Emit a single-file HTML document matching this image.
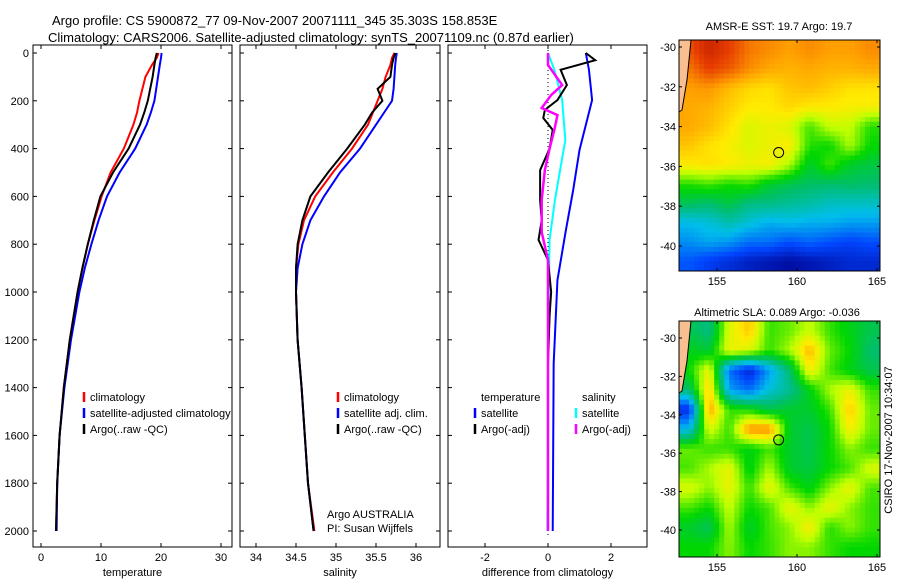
<!DOCTYPE html>
<html><head><meta charset="utf-8"><style>
body{margin:0;background:#fff;}
svg{display:block;font-family:"Liberation Sans",sans-serif;}
text{fill:#000;}
</style></head><body>
<svg id="fig" width="900" height="580" xmlns="http://www.w3.org/2000/svg">
<text x="52" y="25" font-size="13">Argo profile: CS 5900872_77 09-Nov-2007 20071111_345 35.303S 158.853E</text>
<text x="48" y="42" font-size="13">Climatology: CARS2006. Satellite-adjusted climatology: synTS_20071109.nc (0.87d earlier)</text>
<text x="779" y="30" font-size="11" text-anchor="middle">AMSR-E SST: 19.7 Argo: 19.7</text>
<text x="777" y="316" font-size="11" text-anchor="middle">Altimetric SLA: 0.089 Argo: -0.036</text>
<text transform="translate(892,440) rotate(-90)" font-size="11" text-anchor="middle">CSIRO 17-Nov-2007 10:34:07</text>
<g id="g"></g>
</svg>
<script>
// ---------- data ----------
const depthTicks=[0,200,400,600,800,1000,1200,1400,1600,1800,2000];
const tempTicks=[0,10,20,30];
const salTicks=[34,34.5,35,35.5,36];
const salTickLabels=["34","34.5","35","35.5","36"];
const diffTicks=[-2,0,2];
const profDepths=[0,20,50,100,150,200,250,300,400,500,600,700,800,900,1000,1200,1400,1600,1800,2000];
const tempArgo=[19.3,19.1,18.9,18.6,18.2,17.8,17.2,16.5,14.6,12.0,9.9,8.8,7.8,6.9,6.1,4.8,3.8,3.1,2.7,2.5];
const tempClim=[19.6,19.3,18.5,17.4,16.9,16.4,16.0,15.4,13.8,11.6,10.1,8.9,7.8,6.9,6.1,4.8,3.8,3.1,2.7,2.5];
const tempSat=[20.1,20.0,19.8,19.5,19.2,18.9,18.3,17.6,15.7,13.1,11.0,9.6,8.4,7.3,6.4,5.0,3.9,3.1,2.7,2.6];
const salArgo=[35.74,35.72,35.70,35.68,35.52,35.58,35.45,35.36,35.14,34.90,34.68,34.58,34.52,34.50,34.50,34.52,34.57,34.61,34.65,34.72];
const salClim=[35.73,35.70,35.68,35.62,35.58,35.52,35.46,35.40,35.20,34.96,34.74,34.60,34.53,34.50,34.50,34.52,34.57,34.61,34.65,34.73];
const salSat=[35.76,35.75,35.74,35.73,35.72,35.70,35.60,35.50,35.30,35.05,34.85,34.68,34.58,34.52,34.50,34.52,34.57,34.61,34.65,34.72];
const dTArgoDepth=[0,30,70,134,197,238,272,322,400,490,615,700,782,866,1000,1100,1300,1600,2000];
const dTArgo=[1.2,1.5,0.4,0.6,0.3,-0.1,-0.15,0.15,0.05,-0.25,-0.25,-0.2,-0.3,0,0.1,0.05,0,0,0];
const dTSatDepth=[0,70,197,406,573,740,950,1300,2000];
const dTSat=[1.2,1.3,1.4,1.0,0.8,0.57,0.3,0.18,0.15];
const dSSatDepth=[0,70,197,364,615,782,1200,2000];
const dSSat=[0,0.2,0.45,0.55,0.22,0.05,0,-0.02];
const dSArgoDepth=[0,50,134,176,230,260,322,400,490,615,750,866,1000,2000];
const dSArgo=[0,0,0.45,0.1,-0.2,0.3,0.2,0.05,-0.1,-0.2,-0.2,0,0,0];
const mapLonTicks=[155,160,165];
const mapLatTicks=[-30,-32,-34,-36,-38,-40];
const sstGrid=[
[.86,.92,.88,.82,.8,.78,.8,.78,.78,.8],
[.82,.88,.85,.8,.77,.76,.77,.76,.76,.77],
[.78,.79,.75,.72,.71,.74,.75,.73,.71,.71],
[.77,.76,.73,.7,.7,.72,.7,.7,.69,.69],
[.77,.75,.71,.66,.68,.66,.56,.64,.64,.54],
[.74,.71,.69,.66,.68,.7,.54,.52,.62,.52],
[.7,.71,.7,.68,.69,.62,.48,.56,.48,.46],
[.54,.56,.53,.55,.48,.45,.43,.42,.43,.42],
[.44,.42,.46,.4,.4,.38,.37,.34,.34,.34],
[.3,.32,.36,.32,.28,.3,.28,.28,.26,.26],
[.24,.27,.25,.2,.2,.16,.19,.16,.14,.16],
[.17,.13,.1,.07,.05,.03,.05,.07,.09,.09]];
const slaGrid=[
[.45,.4,.66,.74,.55,.58,.64,.55,.5,.45],
[.5,.47,.68,.66,.55,.62,.76,.58,.52,.42],
[.52,.68,.2,.08,.26,.42,.7,.56,.5,.45],
[.42,.74,.26,.2,.32,.38,.5,.62,.68,.55],
[.1,.78,.55,.52,.45,.48,.48,.55,.74,.58],
[.3,.66,.55,.8,.8,.48,.45,.52,.7,.58],
[.58,.55,.55,.5,.56,.48,.45,.52,.6,.55],
[.56,.62,.68,.5,.62,.48,.46,.52,.56,.66],
[.66,.6,.68,.55,.68,.56,.5,.6,.68,.56],
[.56,.52,.64,.52,.56,.68,.6,.68,.6,.55],
[.48,.44,.62,.48,.56,.6,.7,.54,.6,.55],
[.52,.52,.6,.52,.55,.6,.6,.55,.52,.52]];
const floatLon=158.853, floatLat=-35.303;

// ---------- helpers ----------
const NS="http://www.w3.org/2000/svg";
const G=document.getElementById('g');
function mk(tag,attrs,parent){const e=document.createElementNS(NS,tag);for(const k in attrs)e.setAttribute(k,attrs[k]);(parent||G).appendChild(e);return e;}
const yD=d=>53+d*0.239;
const TOP=45,BOT=547;
function lin(d0,p0,d1,p1){return v=>p0+(v-d0)*(p1-p0)/(d1-d0);}
function panel(name,x0,x1,xs,ticks,labels,xlabel){
  const r=mk('rect',{x:x0,y:TOP,width:x1-x0,height:BOT-TOP,fill:'none',stroke:'#000'});
  
  
  ticks.forEach((t,i)=>{const x=xs(t);
    mk('line',{x1:x,x2:x,y1:BOT,y2:BOT-4,stroke:'#000'});mk('line',{x1:x,x2:x,y1:TOP,y2:TOP+4,stroke:'#000'});
    const tx=mk('text',{x:x,y:BOT+14,'font-size':11,'text-anchor':'middle'});tx.textContent=labels[i];
    
    });
  depthTicks.forEach(d=>{const y=yD(d);
    mk('line',{x1:x0,x2:x0+4,y1:y,y2:y,stroke:'#000'});mk('line',{x1:x1,x2:x1-4,y1:y,y2:y,stroke:'#000'});});
  const xl=mk('text',{x:(x0+x1)/2,y:576,'font-size':11,'text-anchor':'middle'});xl.textContent=xlabel;
  
  
}
function line(name,depths,vals,xs,color,w){
  const p=mk('polyline',{points:depths.map((d,i)=>xs(vals[i])+','+yD(d)).join(' '),fill:'none',stroke:color,'stroke-width':w});
  
  
}
function legend(x,y,color,label,name){
  mk('line',{x1:x,x2:x,y1:y-9,y2:y+1,stroke:color,'stroke-width':2.5});
  const t=mk('text',{x:x+6,y:y,'font-size':11});t.textContent=label;
  
  
}
depthTicks.forEach(d=>{const t=mk('text',{x:29,y:yD(d)+4,'font-size':11,'text-anchor':'end'});t.textContent=d;
  
  });

// panel 1
const xT=lin(0,41,30,221);
panel('temperature',33,232,xT,tempTicks,tempTicks.map(String),'temperature');
line('temp-climatology-line',profDepths,tempClim,xT,'#f00',2);
line('temp-satellite-line',profDepths,tempSat,xT,'#00f',2);
line('temp-argo-line',profDepths,tempArgo,xT,'#000',2);
legend(84,401,'#f00','climatology','legend-climatology');
legend(84,417,'#00f','satellite-adjusted climatology','legend-satellite');
legend(84,433,'#000','Argo(..raw -QC)','legend-argo');

// panel 2
const xS=lin(34,256,36,416);
panel('salinity',240,440,xS,salTicks,salTickLabels,'salinity');
line('sal-climatology-line',profDepths,salClim,xS,'#f00',2);
line('sal-satellite-line',profDepths,salSat,xS,'#00f',2);
line('sal-argo-line',profDepths,salArgo,xS,'#000',2);
legend(338,401,'#f00','climatology','legend-sal-climatology');
legend(338,417,'#00f','satellite adj. clim.','legend-sal-satellite');
legend(338,433,'#000','Argo(..raw -QC)','legend-sal-argo');
let t1=mk('text',{x:327,y:518,'font-size':11});t1.textContent='Argo AUSTRALIA';

let t2=mk('text',{x:327,y:532,'font-size':11});t2.textContent='PI: Susan Wijffels';


// panel 3
const xDf=lin(-2,485,2,611);
panel('difference',448,647,xDf,diffTicks,diffTicks.map(String),'difference from climatology');
mk('line',{x1:xDf(0),x2:xDf(0),y1:TOP+5,y2:BOT-10,stroke:'#000','stroke-dasharray':'1,3'});
line('diff-temp-satellite-line',dTSatDepth,dTSat,xDf,'#00f',2);
line('diff-sal-satellite-line',dSSatDepth,dSSat,xDf,'#0ff',2);
line('diff-temp-argo-line',dTArgoDepth,dTArgo,xDf,'#000',2);
line('diff-sal-argo-line',dSArgoDepth,dSArgo,xDf,'#f0f',2.5);
let th=mk('text',{x:481,y:401,'font-size':11});th.textContent='temperature';

let sh=mk('text',{x:582,y:401,'font-size':11});sh.textContent='salinity';

legend(475,417,'#00f','satellite','legend-diff-temp-sat');
legend(475,433,'#000','Argo(-adj)','legend-diff-temp-argo');
legend(576,417,'#0ff','satellite','legend-diff-sal-sat');
legend(576,433,'#f0f','Argo(-adj)','legend-diff-sal-argo');

// maps
const cmapStops=[[0,0,0,140],[.15,0,70,255],[.3,0,190,235],[.42,0,190,110],[.52,0,215,0],[.63,190,255,0],[.7,255,235,0],[.78,255,160,0],[.88,230,60,0],[1,150,0,0]];
function cmap(v){v=Math.max(0,Math.min(1,v));for(let i=1;i<cmapStops.length;i++){const a=cmapStops[i-1],b=cmapStops[i];if(v<=b[0]){const f=(v-a[0])/(b[0]-a[0]);
  return 'rgb('+Math.round(a[1]+f*(b[1]-a[1]))+','+Math.round(a[2]+f*(b[2]-a[2]))+','+Math.round(a[3]+f*(b[3]-a[3]))+')';}}return 'rgb(150,0,0)';}
function sample(grid,fy,fx){const nr=grid.length,nc=grid[0].length;
  const y=Math.max(0,Math.min(nr-1,fy)),x=Math.max(0,Math.min(nc-1,fx));
  const i=Math.min(nr-2,Math.floor(y)),j=Math.min(nc-2,Math.floor(x)),dy=y-i,dx=x-j;
  return grid[i][j]*(1-dy)*(1-dx)+grid[i+1][j]*dy*(1-dx)+grid[i][j+1]*(1-dy)*dx+grid[i+1][j+1]*dy*dx;}
function map(name,grid,x0,x1,y0,y1,latA,yA,latB,yB){
  const nr=grid.length,nc=grid[0].length,SUB=4,R=nr*SUB,C=nc*SUB,cw=(x1-x0)/C,ch=(y1-y0)/R;
  for(let i=0;i<R;i++)for(let j=0;j<C;j++){
    const v=sample(grid,(i+0.5)/SUB-0.5,(j+0.5)/SUB-0.5);
    const c=mk('rect',{x:x0+j*cw,y:y0+i*ch,width:cw+0.5,height:ch+0.5,fill:cmap(v)});
    
    }
  mk('polygon',{points:`${x0},${y0} ${x0+12},${y0} ${x0+8},${y0+40} ${x0+3},${y0+70} ${x0},${y0+72}`,fill:'#f8c090',stroke:'#000'});
  const xs=lin(155,717,165,877), ys=lin(latA,yA,latB,yB);
  const fr=mk('rect',{x:x0,y:y0,width:x1-x0,height:y1-y0,fill:'none',stroke:'#000'});
  
  mapLonTicks.forEach(l=>{const x=xs(l);mk('line',{x1:x,x2:x,y1:y1,y2:y1-3,stroke:'#000'});mk('line',{x1:x,x2:x,y1:y0,y2:y0+3,stroke:'#000'});
    const t=mk('text',{x:x,y:y1+14,'font-size':11,'text-anchor':'middle'});t.textContent=l;
    });
  mapLatTicks.forEach(l=>{const y=ys(l);mk('line',{x1:x0,x2:x0+3,y1:y,y2:y,stroke:'#000'});mk('line',{x1:x1,x2:x1-3,y1:y,y2:y,stroke:'#000'});
    const t=mk('text',{x:x0-3,y:y+4,'font-size':11,'text-anchor':'end'});t.textContent=l;
    });
  const m=mk('circle',{cx:xs(floatLon),cy:ys(floatLat),r:5,fill:'none',stroke:'#000'});
  
}
map('sst-map',sstGrid,679,880,40,271,-30,47,-40,246);
map('sla-map',slaGrid,679,880,321,557,-30,338,-40,530);
</script>
</body></html>
